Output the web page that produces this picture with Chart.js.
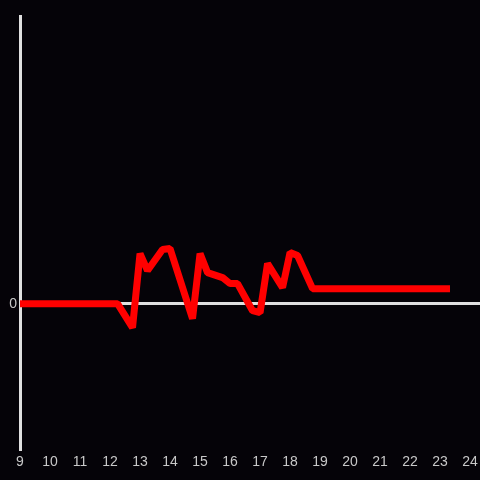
<!DOCTYPE html>
<html>
<head>
<meta charset="utf-8">
<script src="https://cdn.jsdelivr.net/npm/chart.js@4"></script>
<style>
  html, body { margin: 0; padding: 0; background: #050308; }
  #wrap { width: 480px; height: 480px; }
</style>
</head>
<body>
<div id="wrap"><canvas id="chart"></canvas></div>
<script>
// hours of the day and the measured values
const hours = [9, 12.25, 12.75, 13, 13.25, 13.75, 14, 14.75, 15, 15.25, 15.75, 16, 16.25, 16.75, 17, 17.25, 17.75, 18, 18.25, 18.75, 23.33];
const values = [0, 0, -2.4, 5.0, 3.3, 5.4, 5.5, -1.5, 5.0, 3.1, 2.6, 2.0, 2.0, -0.7, -0.9, 4.0, 1.6, 5.1, 4.8, 1.5, 1.5];
const xTicks = [9, 10, 11, 12, 13, 14, 15, 16, 17, 18, 19, 20, 21, 22, 23, 24];
const yTicks = [0];

const axisColor = '#e0e0e0';
const labelColor = '#c8c8c8';

const ctx = document.getElementById('chart').getContext('2d');
new Chart(ctx, {
  type: 'line',
  data: {
    datasets: [{
      data: hours.map((h, i) => ({ x: h, y: values[i] })),
      borderColor: '#ff0000',
      borderWidth: 7,
      borderJoinStyle: 'bevel',
      pointRadius: 0,
      tension: 0,
      fill: false
    }]
  },
  options: {
    responsive: true,
    maintainAspectRatio: false,
    animation: false,
    layout: { padding: { top: 16, left: 0, right: 0, bottom: 0 } },
    plugins: { legend: { display: false }, tooltip: { enabled: false } },
    scales: {
      x: {
        type: 'linear',
        min: 9,
        max: 24.33,
        afterBuildTicks: (s) => { s.ticks = xTicks.map(v => ({ value: v })); },
        afterFit: (s) => { s.height = 31; s.paddingRight = 0; s.paddingLeft = 0; },
        grid: { display: false },
        border: { display: false },
        ticks: {
          color: labelColor,
          font: { family: 'Liberation Sans, Arial', size: 14 },
          padding: -3,
          maxRotation: 0,
          autoSkip: false
        }
      },
      y: {
        min: -14.5,
        max: 28.7,
        afterBuildTicks: (s) => { s.ticks = yTicks.map(v => ({ value: v })); },
        afterFit: (s) => { s.width = 20; },
        grid: {
          drawTicks: false,
          lineWidth: 3,
          color: (c) => (c.tick && c.tick.value === 0 ? axisColor : 'rgba(0,0,0,0)')
        },
        border: { display: true, color: axisColor, width: 3 },
        ticks: {
          color: labelColor,
          font: { family: 'Liberation Sans, Arial', size: 14 },
          padding: 3
        }
      }
    }
  }
});
</script>
</body>
</html>
